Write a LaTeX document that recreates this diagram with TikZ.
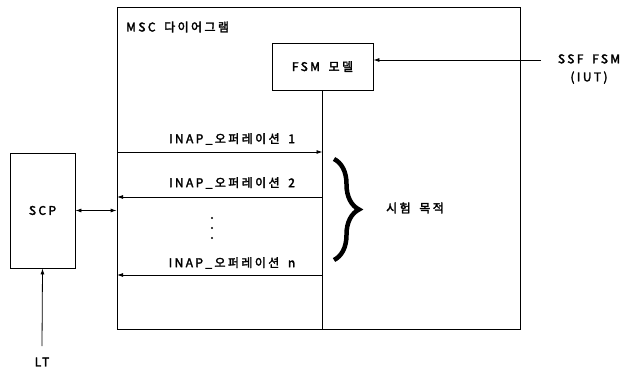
\documentclass[tikz,border=0pt]{standalone}
\usepackage{fontspec}
\setmainfont{Noto Sans CJK KR}[LetterSpace=20,WordSpace=1.7,FakeBold=2.5]
\usetikzlibrary{arrows.meta,decorations.pathreplacing}
\begin{document}
\begin{tikzpicture}[x=1pt,y=-1pt,
  every node/.style={font=\fontsize{12}{18}\selectfont},
  box/.style={draw,line width=0.8pt,inner sep=0pt},
  msg/.style={line width=0.8pt,-{Latex[length=6pt,width=4pt]}},
  lbl/.style={inner sep=1pt}]
\useasboundingbox (0,0) rectangle (623,369);
% frame
\node[box,minimum width=403pt,minimum height=322pt] (msc) at (318.5,168) {};
\node[lbl,anchor=west] (msctitle) at (125,27) {MSC 다이어그램};
% FSM model
\node[box,minimum width=101pt,minimum height=47pt] (fsm) at (322.5,66.5) {FSM 모델};
\draw[line width=0.8pt] (fsm.south) -- (fsm.south |- msc.south);
% SSF FSM
\node[lbl,align=center] (ssf) at (589,69) {SSF FSM\\(IUT)};
\coordinate (ssfa) at (541,60);
\draw[msg] (ssfa) -- (ssfa -| fsm.east);
% messages
\coordinate (m1) at (117,152);
\coordinate (m2) at (117,197);
\coordinate (mn) at (117,275);
\draw[msg] (m1) -- (m1 -| fsm.south);
\draw[msg] (m2 -| fsm.south) -- (m2);
\draw[msg] (mn -| fsm.south) -- (mn);
\node[lbl] (l1) at (232,139) {INAP\_오퍼레이션 1};
\node[lbl] (l2) at (232,183) {INAP\_오퍼레이션 2};
\node[lbl] (ln) at (232,263) {INAP\_오퍼레이션 n};
\foreach \yy in {218,228,238} \fill (212,\yy) circle (1.1pt);
% brace
\draw[line width=4.5pt,decorate,decoration={brace,amplitude=25pt,aspect=0.5}] (334,159) -- (334,260);
\node[lbl] (tp) at (415,208) {시험 목적};
% SCP
\node[box,minimum width=65pt,minimum height=115pt] (scp) at (42.5,210.5) {SCP};
\draw[line width=0.8pt,{Latex[length=6pt,width=4pt]}-{Latex[length=6pt,width=4pt]}] (scp.east) -- (scp.east -| msc.west);
% LT
\node[lbl] (lt) at (42,362) {LT};
\coordinate (ltc) at (42,346);
\draw[msg] (ltc) -- (scp.south);
\end{tikzpicture}
\end{document}
